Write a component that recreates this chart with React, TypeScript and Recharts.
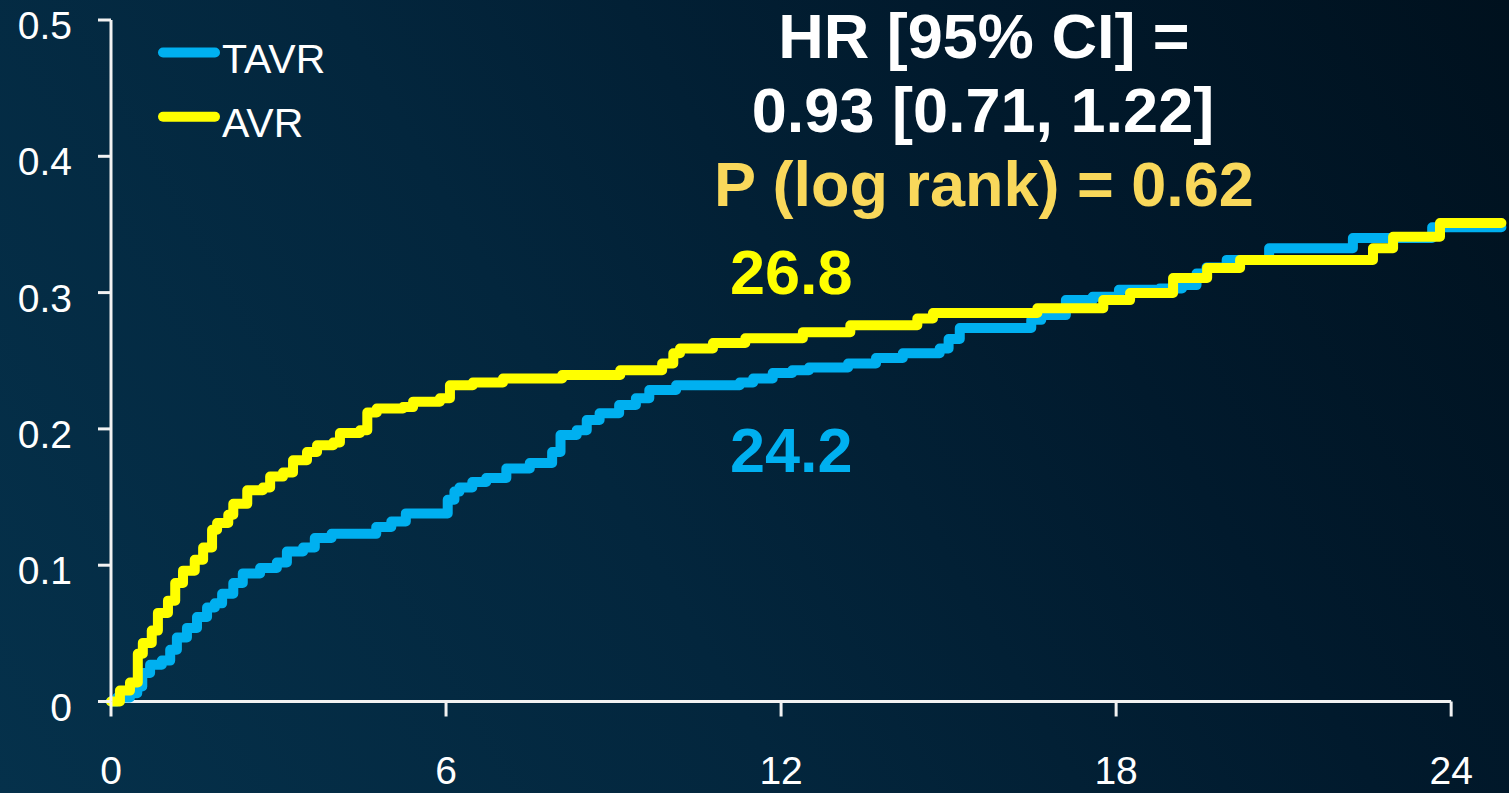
import { Line, LineChart, ReferenceLine, XAxis, YAxis } from "recharts";

// Kaplan-Meier style cumulative event curves (months → cumulative risk)
const tavrMonths = [
  0, 0.11, 0.34, 0.47, 0.56, 0.7, 0.91, 1.06, 1.18, 1.36, 1.54, 1.72, 1.86, 1.99, 2.19, 2.36, 2.67, 2.97,
  3.15, 3.44, 3.65, 3.95, 4.75, 5.02, 5.28, 6.03, 6.15, 6.24, 6.47, 6.72, 7.08, 7.5, 7.9, 8.05, 8.34, 8.52,
  8.75, 9.1, 9.4, 9.64, 10.12, 11.26, 11.5, 11.85, 12.2, 12.5, 13.2, 13.7, 14.18, 14.84, 15.0, 15.2, 16.48,
  16.66, 17.1, 17.58, 18.05, 18.78, 19.18, 19.44, 19.62, 19.98, 20.74, 22.24, 23.66, 24.9,
];
const tavrRisk = [
  0, 0.003, 0.006, 0.011, 0.021, 0.027, 0.03, 0.038, 0.047, 0.054, 0.062, 0.069, 0.072, 0.079, 0.087, 0.094,
  0.098, 0.102, 0.11, 0.113, 0.12, 0.123, 0.128, 0.132, 0.138, 0.148, 0.154, 0.157, 0.161, 0.164, 0.171,
  0.175, 0.183, 0.1955, 0.199, 0.2065, 0.2115, 0.2175, 0.2225, 0.2285, 0.232, 0.234, 0.237, 0.241, 0.243,
  0.245, 0.248, 0.252, 0.2555, 0.259, 0.266, 0.274, 0.28, 0.2835, 0.2945, 0.297, 0.302, 0.303, 0.3055, 0.314,
  0.3185, 0.324, 0.3325, 0.34, 0.348, 0.348,
];
const avrMonths = [
  0, 0.16, 0.34, 0.48, 0.57, 0.73, 0.84, 1.02, 1.15, 1.29, 1.5, 1.65, 1.81, 1.9, 2.1, 2.19, 2.44, 2.72, 2.85,
  3.08, 3.26, 3.51, 3.69, 3.98, 4.1, 4.46, 4.59, 4.76, 5.23, 5.41, 5.89, 6.07, 6.48, 7.02, 8.08, 9.12, 9.87,
  10.07, 10.19, 10.78, 11.36, 12.39, 13.24, 14.44, 14.72, 16.59, 17.77, 18.25, 19.02, 19.63, 20.22, 22.6,
  22.96, 23.8, 24.9,
];
const avrRisk = [
  0, 0.008, 0.014, 0.035, 0.043, 0.052, 0.065, 0.074, 0.087, 0.096, 0.104, 0.113, 0.126, 0.131, 0.137, 0.145,
  0.155, 0.157, 0.165, 0.168, 0.177, 0.183, 0.188, 0.19, 0.197, 0.199, 0.212, 0.215, 0.216, 0.22, 0.2225,
  0.232, 0.234, 0.237, 0.2395, 0.243, 0.248, 0.2555, 0.259, 0.263, 0.2665, 0.271, 0.276, 0.281, 0.285,
  0.2885, 0.2945, 0.2997, 0.3107, 0.318, 0.324, 0.3325, 0.341, 0.351, 0.351,
];

const monthTicks = [0, 6, 12, 18, 24];
const riskTicks = [0, 0.1, 0.2, 0.3, 0.4, 0.5];
const seriesNames = ["TAVR", "AVR"];
const hrLines = ["HR [95% CI] =", "0.93 [0.71, 1.22]"];
const pValueText = "P (log rank) = 0.62";
const avrRateText = "26.8";
const tavrRateText = "24.2";

const TAVR_BLUE = "#00b0f0";
const AVR_YELLOW = "#ffff00";
const P_GOLD = "#f9d85b";
const AXIS_WHITE = "#f2f2f2";
const FONT = "'Liberation Sans', Arial, sans-serif";

const tavrData = tavrMonths.map((month, i) => ({ month, risk: tavrRisk[i] }));
const avrData = avrMonths.map((month, i) => ({ month, risk: avrRisk[i] }));

function RiskTick({ x, y, payload }: any) {
  return (
    <text x={x} y={y + 19} textAnchor="end" fill="#ffffff" fontSize={39} fontFamily={FONT}>
      {payload.value}
    </text>
  );
}

function MonthTick({ x, y, payload }: any) {
  return (
    <text x={x} y={y + 67} textAnchor="middle" fill="#ffffff" fontSize={39} fontFamily={FONT}>
      {payload.value}
    </text>
  );
}

export default function App() {
  return (
    <div
      style={{
        position: "absolute",
        left: 0,
        top: 0,
        width: 1509,
        height: 793,
        overflow: "hidden",
        background: "linear-gradient(60deg, #05314b 0%, #03263d 40%, #011a2d 70%, #00111e 100%)",
      }}
    >
      <LineChart width={1509} height={793} margin={{ top: 20, right: 2, left: 11, bottom: 11.5 }}>
        <XAxis
          dataKey="month"
          type="number"
          domain={[0, 25]}
          ticks={monthTicks}
          axisLine={false}
          tickSize={15}
          tickMargin={0}
          tickLine={{ stroke: AXIS_WHITE, strokeWidth: 3 }}
          tick={<MonthTick />}
          height={80}
          allowDuplicatedCategory={false}
        />
        <YAxis
          type="number"
          domain={[0, 0.5]}
          ticks={riskTicks}
          width={100}
          tickSize={13}
          tickMargin={26}
          axisLine={{ stroke: AXIS_WHITE, strokeWidth: 3 }}
          tickLine={{ stroke: AXIS_WHITE, strokeWidth: 3 }}
          tick={<RiskTick />}
        />
        <ReferenceLine
          segment={[
            { x: 0, y: 0 },
            { x: 24, y: 0 },
          ]}
          stroke={AXIS_WHITE}
          strokeWidth={3}
        />
        <Line
          data={tavrData}
          dataKey="risk"
          name={seriesNames[0]}
          type="stepAfter"
          stroke={TAVR_BLUE}
          strokeWidth={10}
          strokeLinejoin="round"
          strokeLinecap="round"
          dot={false}
          activeDot={false}
          isAnimationActive={false}
        />
        <Line
          data={avrData}
          dataKey="risk"
          name={seriesNames[1]}
          type="stepAfter"
          stroke={AVR_YELLOW}
          strokeWidth={10}
          strokeLinejoin="round"
          strokeLinecap="round"
          dot={false}
          activeDot={false}
          isAnimationActive={false}
        />
      </LineChart>

      {/* legend and annotations */}
      <svg
        width={1509}
        height={793}
        style={{ position: "absolute", left: 0, top: 0, pointerEvents: "none" }}
        fontFamily={FONT}
      >
        <line x1={163} y1={52.5} x2={215} y2={52.5} stroke={TAVR_BLUE} strokeWidth={10} strokeLinecap="round" />
        <text x={222} y={73} fill="#ffffff" fontSize={41}>
          {seriesNames[0]}
        </text>
        <line x1={163} y1={116.7} x2={215} y2={116.7} stroke={AVR_YELLOW} strokeWidth={10} strokeLinecap="round" />
        <text x={222} y={137} fill="#ffffff" fontSize={41}>
          {seriesNames[1]}
        </text>

        <text x={984} y={58} textAnchor="middle" fill="#ffffff" fontSize={63} fontWeight="bold">
          {hrLines[0]}
        </text>
        <text x={983} y={132} textAnchor="middle" fill="#ffffff" fontSize={63} fontWeight="bold">
          {hrLines[1]}
        </text>
        <text x={984} y={206} textAnchor="middle" fill={P_GOLD} fontSize={63} fontWeight="bold">
          {pValueText}
        </text>
        <text x={730} y={294} fill={AVR_YELLOW} fontSize={63} fontWeight="bold">
          {avrRateText}
        </text>
        <text x={730} y={472} fill={TAVR_BLUE} fontSize={63} fontWeight="bold">
          {tavrRateText}
        </text>
      </svg>
    </div>
  );
}
